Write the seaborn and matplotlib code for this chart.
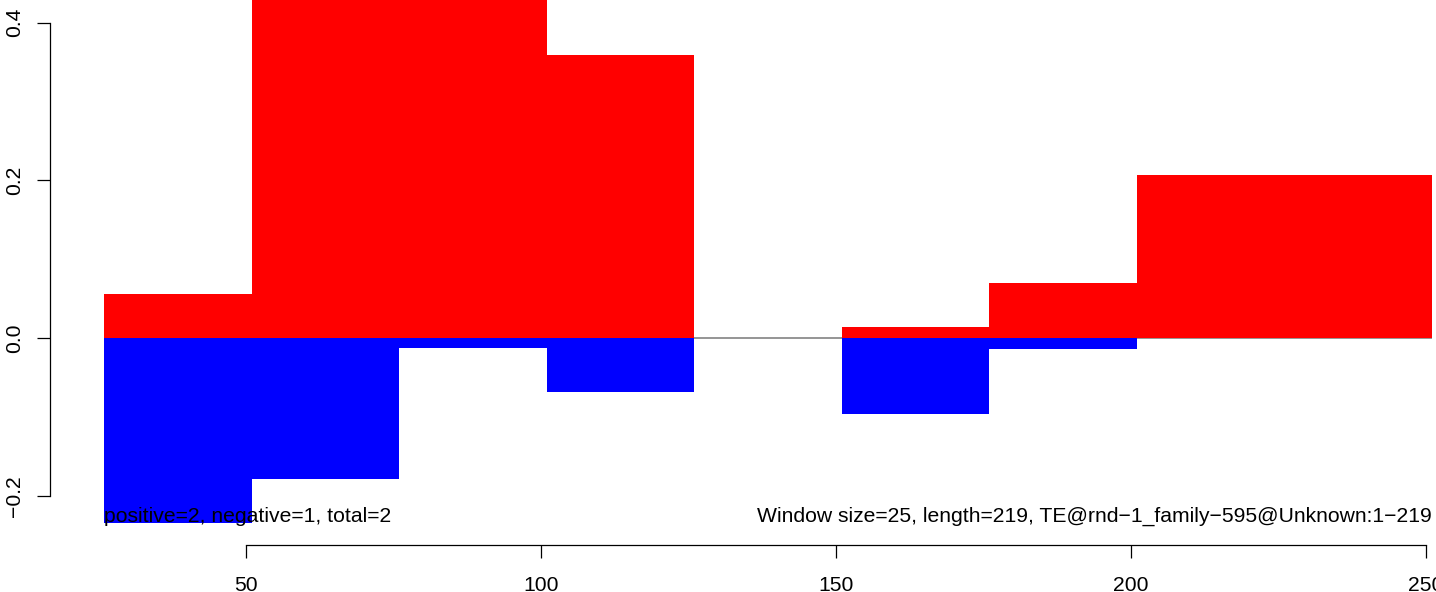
import matplotlib
matplotlib.use("Agg")
import matplotlib.pyplot as plt
import seaborn as sns
import numpy as np

# window start positions (window size 25)
window_start = [26, 51, 76, 101, 126, 151, 176, 201, 226]
pos_frac = [0.056, 0.47, 0.47, 0.359, 0.0, 0.014, 0.070, 0.207, 0.207]
neg_frac = [-0.235, -0.179, -0.013, -0.069, 0.0, -0.096, -0.014, 0.0, 0.0]
x_ticks = [50, 100, 150, 200, 250]
y_ticks = [-0.2, 0.0, 0.2, 0.4]
y_labels = ["\u22120.2", "0.0", "0.2", "0.4"]
left_note = "positive=2, negative=1, total=2"
right_note = "Window size=25, length=219, TE@rnd\u22121_family\u2212595@Unknown:1\u2212219"
win = 25
fs = 15.2

sns.set_style("ticks")
plt.rcParams["font.family"] = ["Liberation Sans", "DejaVu Sans"]

centers = np.array(window_start) + win / 2

W, H = 1436, 592
fig = plt.figure(figsize=(W / 100, H / 100), dpi=100)
ax = fig.add_axes([50 / W, 47 / H, (1485 - 50) / W, 545 / H])

# baseline under the bars, only across the windows
ax.hlines(0, window_start[0], window_start[-1] + win, color="#8c8c8c", lw=1.3, zorder=0)
sns.barplot(x=centers, y=pos_frac, native_scale=True, color="#ff0000",
            saturation=1, width=1, linewidth=0, ax=ax, zorder=2)
sns.barplot(x=centers, y=neg_frac, native_scale=True, color="#0000ff",
            saturation=1, width=1, linewidth=0, ax=ax, zorder=2)

ax.set_xlim(16.8, 260.0)
ax.set_ylim(-0.2626, 0.4288)

for s in ["top", "right"]:
    ax.spines[s].set_visible(False)
ax.spines["left"].set_bounds(-0.2, 0.4)
ax.spines["bottom"].set_bounds(50, 250)
for s in ["left", "bottom"]:
    ax.spines[s].set_linewidth(0.9)
    ax.spines[s].set_color("black")

ax.set_xticks(x_ticks)
ax.set_xticklabels([str(v) for v in x_ticks])
ax.set_yticks(y_ticks)
ax.set_yticklabels(y_labels, rotation=90, va="center")
ax.tick_params(axis="both", length=9.5, width=0.9, color="black",
               labelsize=fs, labelcolor="black")
ax.tick_params(axis="x", pad=13)
ax.tick_params(axis="y", pad=9)
ax.set_xlabel("")
ax.set_ylabel("")

ax.text(26, -0.2328, left_note, ha="left", va="baseline", fontsize=fs, color="black")
ax.text(251, -0.2328, right_note, ha="right", va="baseline", fontsize=fs, color="black")

fig.savefig("out.png", dpi=100)
